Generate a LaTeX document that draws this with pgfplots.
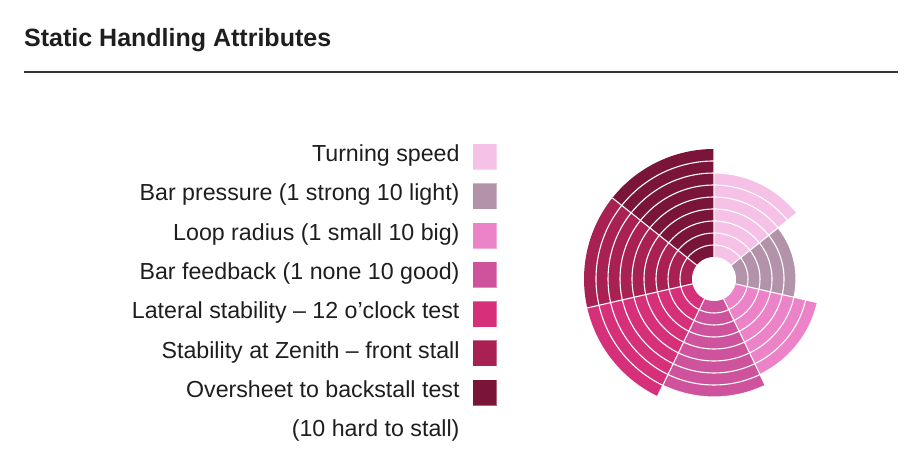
\documentclass[border=0pt]{standalone}
\usepackage{pgfplots}
\pgfplotsset{compat=1.18}
\usepgfplotslibrary{polar}
\usepackage{fontspec}
\setmainfont{Liberation Sans}
\definecolor{cTurn}{HTML}{F6C1E6}
\definecolor{cBarP}{HTML}{B393A9}
\definecolor{cLoop}{HTML}{EC82C8}
\definecolor{cFeed}{HTML}{CE539C}
\definecolor{cLat}{HTML}{D6307A}
\definecolor{cZen}{HTML}{A92053}
\definecolor{cOver}{HTML}{7A1539}
\definecolor{textc}{HTML}{1E1E1E}
\definecolor{rulec}{HTML}{333333}
\begin{document}
\begin{tikzpicture}[x=1bp,y=1bp]
\useasboundingbox (0,0) rectangle (918,458);
\node[anchor=base west, inner sep=0pt, font=\fontsize{25bp}{30bp}\selectfont\bfseries, text=textc] at (24,411) {Static Handling Attributes};
\draw[line width=1.4bp, color=rulec] (24,386) -- (898,386);
\begin{polaraxis}[
  at={(714bp,179bp)}, anchor=center,
  scale only axis, width=260bp, height=260bp,
  xmin=0, xmax=360, ymin=-1.8333, ymax=9,
  y coord trafo/.code={\pgfmathparse{#1+1.8333}},
  y coord inv trafo/.code={\pgfmathparse{#1-1.8333}},
  clip=false,
  axis on top,
  xtick={38.571,90,141.429,192.857,244.286,295.714,347.143},
  ytick={1,2,3,4,5,6,7,8},
  xticklabels={}, yticklabels={},
  major tick length=0pt,
  axis line style={draw=none},
  xmajorgrids, ymajorgrids,
  major grid style={white, line width=1.1bp},
  legend cell align=right,
  legend plot pos=right,
  legend image code/.code={\draw[#1, draw=white, draw opacity=0.35, line width=1bp] (0bp,-13bp) rectangle (24bp,13bp);},
  legend style={draw=none, fill=none, inner sep=0pt, outer sep=0pt,
    at={(-0.3327,1.0212)}, anchor=north east,
    font=\fontsize{23.2bp}{28bp}\selectfont, text=textc,
    row sep=12.3bp, column sep=13bp,
    nodes={inner sep=0pt, text height=17.7bp, text depth=8.3bp}},
]
\addplot[fill=cTurn, draw=none, domain=38.571:90, samples=40] {7} -- (axis cs:0,-1.8333) -- cycle;
\addlegendentry{Turning speed}
\addplot[fill=cBarP, draw=none, domain=-12.857:38.571, samples=40] {5} -- (axis cs:0,-1.8333) -- cycle;
\addlegendentry{Bar pressure (1 strong 10 light)}
\addplot[fill=cLoop, draw=none, domain=-64.286:-12.857, samples=40] {7} -- (axis cs:0,-1.8333) -- cycle;
\addlegendentry{Loop radius (1 small 10 big)}
\addplot[fill=cFeed, draw=none, domain=-115.714:-64.286, samples=40] {8} -- (axis cs:0,-1.8333) -- cycle;
\addlegendentry{Bar feedback (1 none 10 good)}
\addplot[fill=cLat, draw=none, domain=-167.143:-115.714, samples=40] {9} -- (axis cs:0,-1.8333) -- cycle;
\addlegendentry{Lateral stability – 12 o’clock test}
\addplot[fill=cZen, draw=none, domain=141.429:192.857, samples=40] {9} -- (axis cs:0,-1.8333) -- cycle;
\addlegendentry{Stability at Zenith – front stall}
\addplot[fill=cOver, draw=none, domain=90:141.429, samples=40] {9} -- (axis cs:0,-1.8333) -- cycle;
\addlegendentry{Oversheet to backstall test}
\addlegendimage{empty legend}
\addlegendentry{(10 hard to stall)}
\addplot[fill=white, draw=none, domain=0:360, samples=90, forget plot] {0} -- cycle;
\end{polaraxis}
\end{tikzpicture}
\end{document}
